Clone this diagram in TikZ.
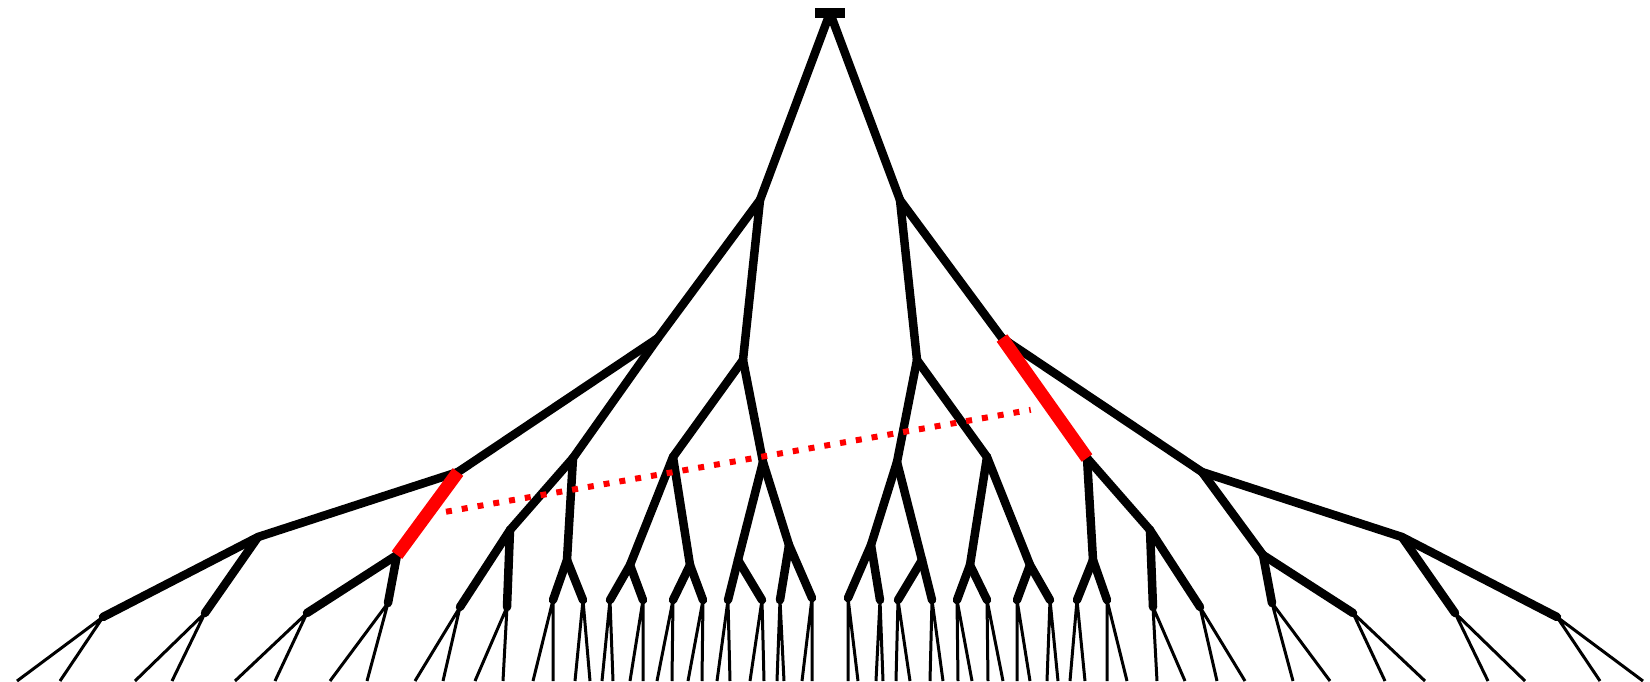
\documentclass[tikz,border=0pt]{standalone}
\usetikzlibrary{calc}
\tikzset{
    branch/.style={line width=8.5pt, line cap=round, line join=round},
    twig/.style={line width=3pt},
    marked/.style={red, line width=13pt},
    gap/.style={red, line width=6pt, dash pattern=on 6pt off 10pt,
        shorten <=20pt, shorten >=20pt}
}
\begin{document}
\begin{tikzpicture}[x=1pt,y=-1pt]
    \useasboundingbox (0,0) rectangle (1650,681);

    % Place the root and its two children
    \coordinate (root) at (830,13);
    \coordinate (l) at (760,200);
    \coordinate (r) at (900,200);
    \foreach \s in {l,r}
        \draw[branch] (root) -- (\s);
    \draw[line width=10pt] ([xshift=-15pt]root) -- ([xshift=15pt]root);

    % Inner nodes: left side, and its mirror image on the right
    \foreach \p/\c/\x/\y in {/o/658/338, /i/743/360,
        o/oo/458/472, o/oi/573/458, i/io/673/457, i/ii/763/462,
        oo/ooo/258/537, oo/ooi/397/555, oi/oio/510/530, oi/oii/567/560,
        io/ioo/630/565, io/ioi/690/565, ii/iio/738/560, ii/iii/789/545,
        ooo/oooo/103/617, ooo/oooi/205/613, ooi/ooio/307/613, ooi/ooii/388/603,
        oio/oioo/460/607, oio/oioi/507/607, oii/oiio/553/600, oii/oiii/583/600,
        ioo/iooo/610/600, ioo/iooi/643/600, ioi/ioio/673/600, ioi/ioii/703/600,
        iio/iioo/728/600, iio/iioi/762/600, iii/iiio/780/600, iii/iiii/812/598}
    {
        \coordinate (l\c) at (\x,\y);
        \coordinate (r\c) at (1660-\x,\y);
        \draw[branch] (l\p) -- (l\c);
        \draw[branch] (r\p) -- (r\c);
    }

    % Draw the leaves
    \foreach \p/\a/\b in {oooo/17/60, oooi/135/172, ooio/235/275, ooii/330/367,
        oioo/415/443, oioi/475/503, oiio/533/553, oiii/575/590,
        iooo/602/613, iooi/630/643, ioio/657/672, ioii/688/702,
        iioo/717/730, iioi/750/764, iiio/777/784, iiii/802/812}
    {
        \coordinate (l\p o) at (\a,681);
        \coordinate (l\p i) at (\b,681);
        \coordinate (r\p o) at (1660-\a,681);
        \coordinate (r\p i) at (1660-\b,681);
        \draw[twig] (l\p o) -- (l\p) -- (l\p i);
        \draw[twig] (r\p o) -- (r\p) -- (r\p i);
    }

    % Mark the two edges and join them
    \draw[marked] (loo) -- (looi);
    \draw[marked] (ro) -- (roi);
    \coordinate (ma) at ($(loo)!0.52!(looi)$);
    \coordinate (mb) at ($(ro)!0.57!(roi)$);
    \draw[gap] (ma) -- (mb);

\end{tikzpicture}
\end{document}
